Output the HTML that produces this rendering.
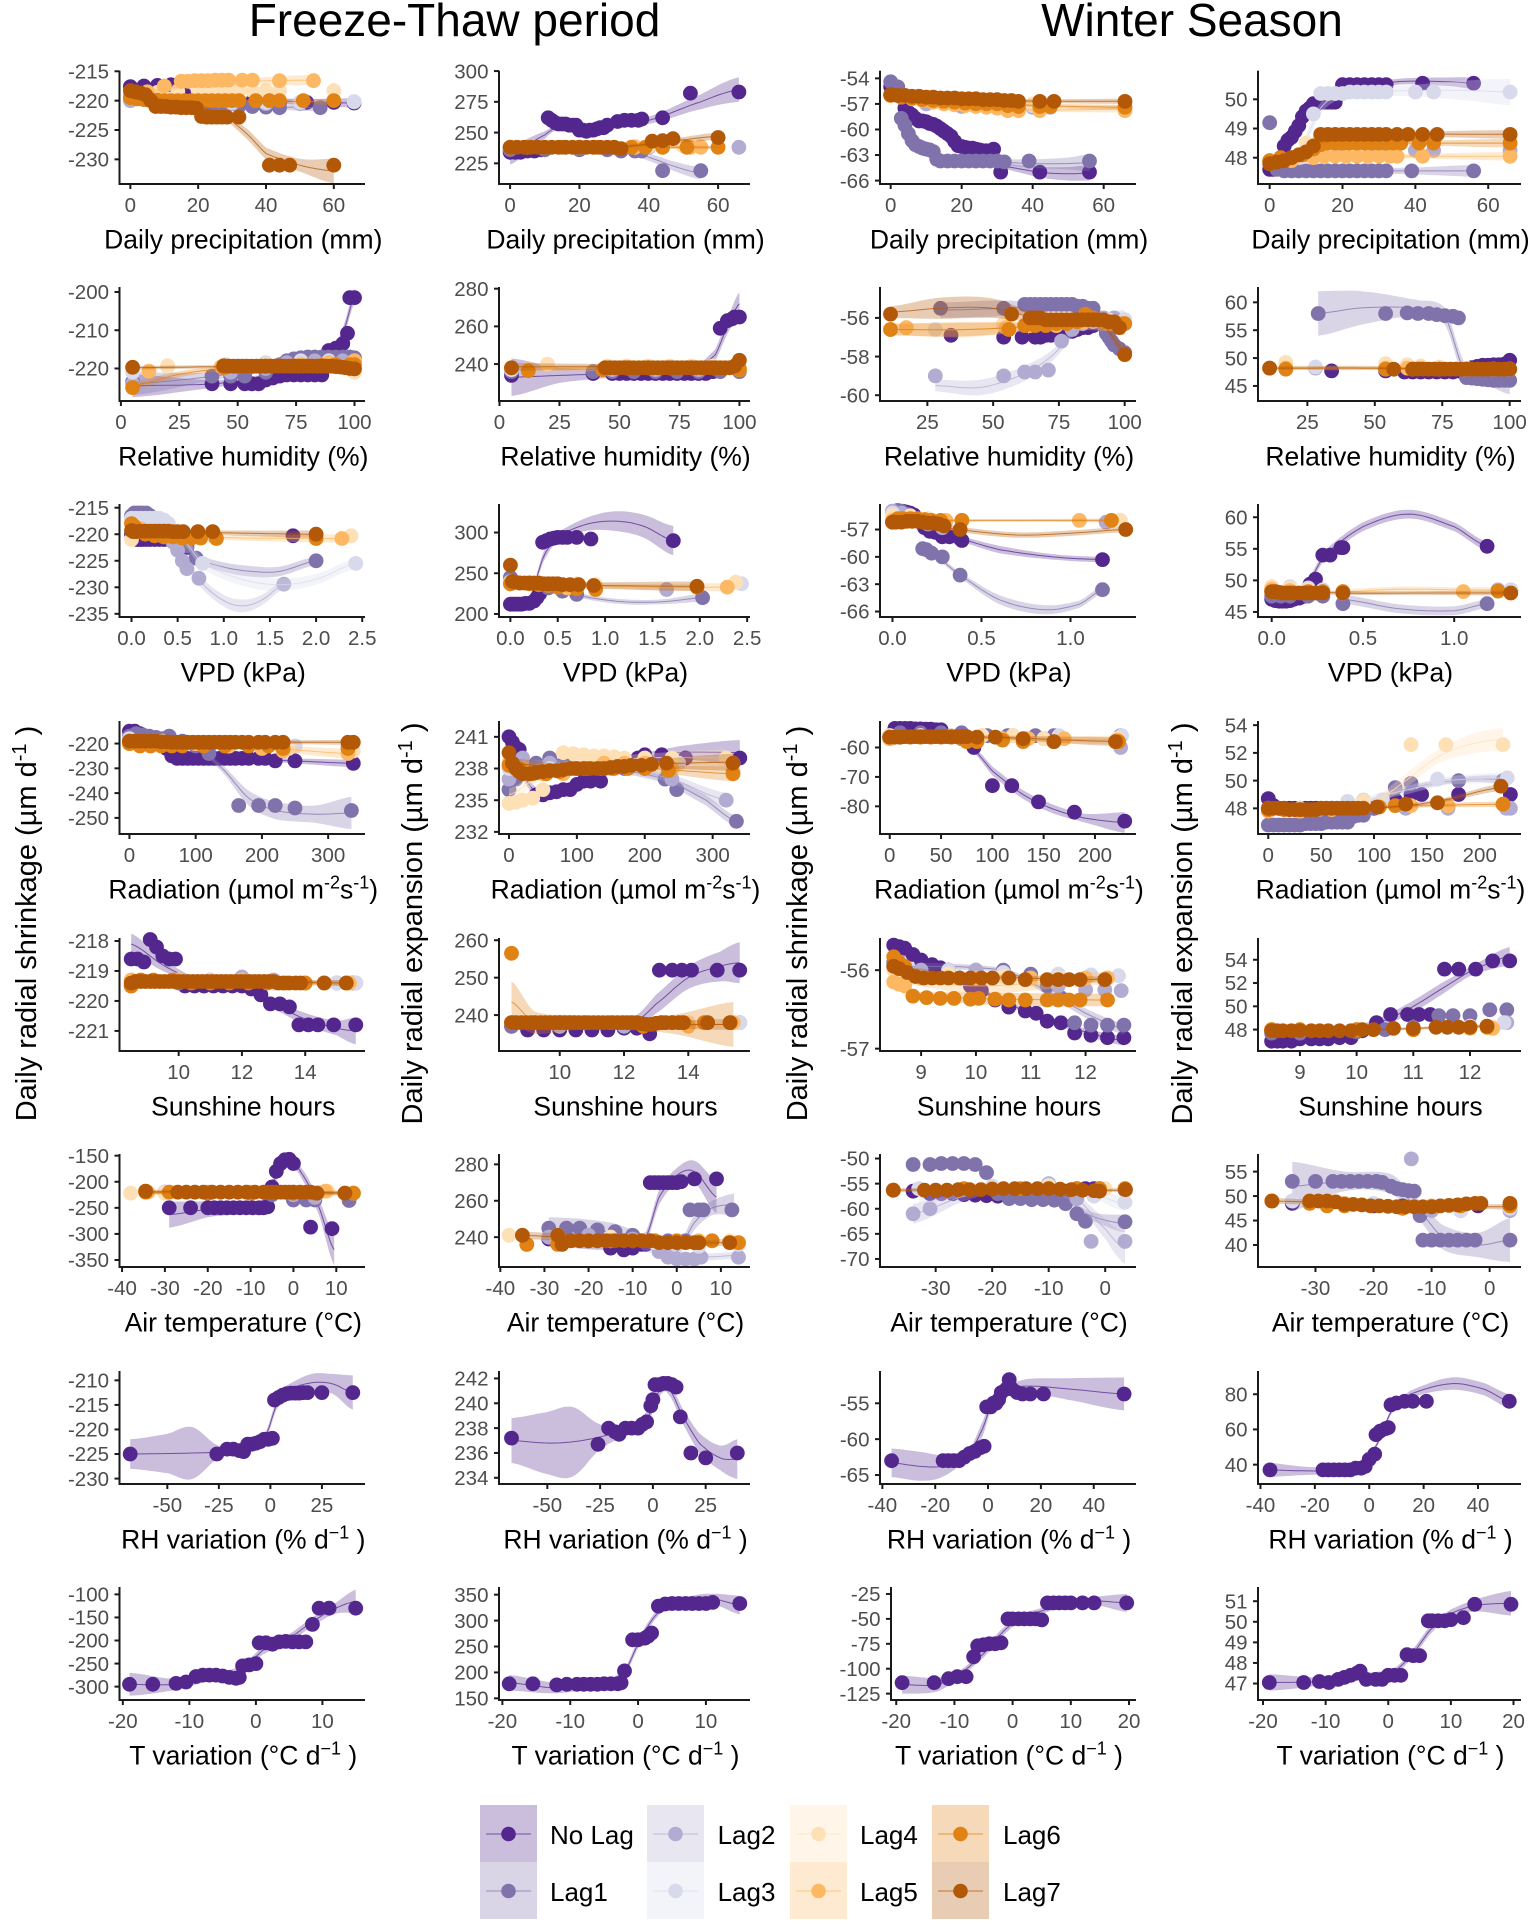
<!DOCTYPE html>
<html lang="en">
<head>
<meta charset="utf-8">
<title>Freeze-Thaw period and Winter Season response curves</title>
<style>
html,body{margin:0;padding:0;background:#fff;}
svg{display:block;font-family:"Liberation Sans",sans-serif;}
</style>
</head>
<body>
<svg id="chart" width="1535" height="1924" viewBox="0 0 1535 1924">
<rect width="1535" height="1924" fill="#fff"/>
<text x="454.5" y="36" font-size="46" text-anchor="middle" fill="#000">Freeze-Thaw period</text>
<text x="1192" y="36" font-size="46" text-anchor="middle" fill="#000">Winter Season</text>
<text transform="translate(36 923.5) rotate(-90)" font-size="29" text-anchor="middle">Daily radial shrinkage (µm d<tspan dy="-10" font-size="20">-1</tspan><tspan dy="10">&#160;)</tspan></text>
<text transform="translate(422 923.5) rotate(-90)" font-size="29" text-anchor="middle">Daily radial expansion (µm d<tspan dy="-10" font-size="20">-1</tspan><tspan dy="10">&#160;)</tspan></text>
<text transform="translate(807 923.5) rotate(-90)" font-size="29" text-anchor="middle">Daily radial shrinkage (µm d<tspan dy="-10" font-size="20">-1</tspan><tspan dy="10">&#160;)</tspan></text>
<text transform="translate(1192 923.5) rotate(-90)" font-size="29" text-anchor="middle">Daily radial expansion (µm d<tspan dy="-10" font-size="20">-1</tspan><tspan dy="10">&#160;)</tspan></text>
</svg>
<script>
const _ = null;
const lagNames = ['No Lag','Lag1','Lag2','Lag3','Lag4','Lag5','Lag6','Lag7'];
const lagColors = ['#54278f','#8073ac','#b2abd2','#d8daeb','#fee0b6','#fdb863','#e08214','#b35806'];

/* tick labels */
const xtPrecip=[0,20,40,60];
const xtRhF=[0,25,50,75,100];
const xtRhW=[25,50,75,100];
const xtVpdF=[0,0.5,1,1.5,2,2.5];
const xtVpdW=[0,0.5,1];
const xtRadF=[0,100,200,300];
const xtRadW=[0,50,100,150,200];
const xtSunF=[10,12,14];
const xtSunW=[9,10,11,12];
const xtTempF=[-40,-30,-20,-10,0,10];
const xtTempW=[-30,-20,-10,0];
const xtRhvF=[-50,-25,0,25];
const xtRhvW=[-40,-20,0,20,40];
const xtTvF=[-20,-10,0,10];
const xtTvW=[-20,-10,0,10,20];

/* shared driver values */
const pC=[0,4,8,12,16,20,24,28,32,36,40,44,48,52,56,60,66];
const rF=[5,12,20,39,44,47,50,53,56,59,62,65,68,71,74,77,80,83,86,89,92,95,97,98,100];
const rFine=[5,44,46,48,50,52,54,56,58,60,62,64,66,68,70,72,74,76,78,80,82,84,86,88,90,92,94,96,98,100];
const rH=[5,44,50,56,62,68,74,80,86,92,98,100];
const rW=[11,17,28,34,54,57,60,62,64,66,68,70,72,74,76,78,80,82,84,86,88,90,92,94,96,98,100];
const rV=[11,17,34,57,64,70,76,82,88,94,100];
const vF=[0,.03,.06,.09,.12,.16,.2,.25,.3,.35,.4,.45,.5,.55,.6,.7,.73,.77,.88,.92,1.65,1.75,2,2.3,2.4,2.44];
const vW=[0,.02,.04,.06,.08,.1,.12,.15,.18,.21,.24,.28,.32,.38,.39,1.05,1.18,1.24,1.31];
const qF=[0,8,16,24,32,40,48,56,64,72,80,88,96,104,112,120,128,136,144,152,160,170,180,195,205,220,232,250,330,338];
const qW=[0,5,10,15,20,25,30,35,40,45,50,55,60,65,70,75,80,85,90,100,120,135,145,160,170,180,222,229];
const sF=[8.5,8.7,8.9,9.1,9.3,9.5,9.7,9.9,10.2,10.5,10.8,11.1,11.4,11.7,12,12.3,12.6,12.9,13.2,13.5,13.8,14.1,14.4,14.9,15.4,15.6];
const sFine=[8.5,8.65,8.8,8.95,9.1,9.25,9.4,9.55,9.7,9.85,10,10.15,10.3,10.45,10.6,10.75,10.9,11.05,11.2,11.35,11.5,11.65,11.8,11.95,12.1,12.25,12.4,12.55,12.7,12.85,13,13.15,13.3,13.5,13.7,13.85,14.6,15.3];
const sW=[8.5,8.6,8.7,8.85,9,9.2,9.35,9.5,9.7,9.9,10.1,10.35,10.6,10.9,11.1,11.3,11.55,11.8,12.1,12.4,12.7];
const tF=[-38,-34.5,-29,-27,-25,-23,-21,-19,-17,-15,-13,-11,-9,-7,-6,-5,-4,-3,-2,-1,0,1.5,3,4,5.5,7,9,12,14];
const tW=[-37.5,-34,-31,-29,-27,-25,-23,-21,-19,-17,-15,-13,-11,-9,-7,-5,-3.5,-2,-1,3.5];
const hvF=[-68,-26,-21,-18,-15,-13,-11,-9,-7,-5,-3,-1,1,2,4,6,8,10,12,14,16,18,25,40];
const hvE=[-67,-26,-21,-18,-16,-13,-10,-7,-5,-3,-1,0,1,3,5,7,9,11,13,18,25,40];
const hvW=[-36.5,-17,-15,-13,-11,-9,-7,-5,-3,-1.5,-.5,1,2,3,4,5,7,8,9,11,13,16,21,51.5];
const hvX=[-36.5,-17,-15,-13,-11,-9,-7,-5,-3,-1.5,0,2,2.5,4,6,7,8,10,13,16,21,51.5];
const tvA=[-19,-15.5,-12,-10.5,-9,-8,-7,-6,-5,-4,-3,-2.5,-2,-1,0,.5,1.5,2.5,3.5,4.5,5.5,6.5,7.5,8.5,9.5,11,15];
const tvB=[-19,-15.5,-12,-10.5,-9,-8,-7,-6,-5,-4,-3,-2.5,-2,-.8,0,1,1.5,2,3,4,5,6,7,8,9,10,11,15];
const tvC=[-19,-13.5,-11,-9.5,-8,-6.7,-6,-5,-4,-3,-2,-.8,0,1,2,3,4,5,6,7,8,9,10,12,14,19.6];
const tvD=[-19,-13.5,-11,-9.5,-8,-7,-6,-5,-4.5,-3.5,-2,-1,0,1,2,3,4,5,6.4,7,8,9,10,12,13.8,19.6];

/* measured responses: one row per lag, [driver values, response values] */
const ftPrecipShrink=[
[pC,[-217.6,-217.5,-217.4,-217.3,-219,-220,-220.2,-220.2,-220.2,-220.2,-220.3,-220.3,_,-220.3,_,-220.3,-220.4]],
[pC,[-219.5,-219.8,-220,-220.2,-220.4,-220.8,-221,-221,-221,-221,-221.1,-221.2,_,_,-221.2]],
[[0,10,20,30,40,50,66],[-220,-220,-220.5,-220.5,-220.5,-220.5,-220.2]],
[[0,10,20,30,40,50,66],[-219,-219.5,-220,-220.3,-220.3,-220.3,-220.2]],
[[0,8,14,20,24,28,32,36,40,44,60],[-219,-218.6,-218.4,-218.3,-218.3,-218.3,-218.3,-218.3,-218.3,-218.3,-218.3]],
[[0,5,10,15,17,19,21,23,25,27,29,33,36,44,54],[-219,-218.5,-217.5,-216.7,-216.7,-216.6,-216.6,-216.6,-216.5,-216.5,-216.5,-216.5,-216.5,-216.6,-216.6]],
[[0,2,4,6,8,10,12,14,16,18,20,22,24,26,28,30,32,37,41,44,51,60],[-219.5,-219.7,-219.8,-219.8,-219.9,-220,-220,-220,-220,-220,-220,-220,-220,-220,-220,-220,-220,-220,-220,-220,-220,-220]],
[[0,1.5,3,4.5,6,7.5,9,10.5,12,13.5,15,16.5,18,19.5,21,22.5,24,25.5,27,28.5,32,41,44,47,60],[-218.3,-218.5,-218.7,-219,-220,-221,-221,-221,-221.1,-221.1,-221.2,-221.2,-221.2,-221.3,-222.7,-222.8,-222.8,-222.8,-222.8,-222.8,-222.8,-231,-231,-231,-231]]];
const ftPrecipShrinkFit=[
[0,[0,15,30,50,66],[-218.5,-218.2,-219.5,-220.2,-220.4],[.5,.4,.4,.5,.8]],
[1,[0,20,40,55],[-219.5,-220.5,-221,-221.2],[.4,.3,.4,.6]],
[5,[0,15,30,54],[-219,-217.5,-216.8,-216.5],[.6,.5,.5,.9]],
[6,[0,30,60],[-219.5,-220,-220.2],[.3,.3,.5]],
[7,[0,10,20,30,35,40,50,60],[-219,-220,-221,-223.5,-226,-229,-231,-232],[.4,.3,.4,.7,.9,1,1.1,2.1]]];

const ftPrecipExpand=[
[[0,1.5,3,5,7,9,11,12,13,14,15,16,17,18,19,20,21,22,23,24,25,26,27,28,31,33,35,37,38,44,52,66],[234,234,234,235,235,236,262,260,258,257,257,257,256,256,256,252,252,251,252,252,253,254,254,256,259,260,260,260,261,262,282,283]],
[[0,10,20,28,32,36,38,44,55],[236,236,236,236,235,235,235,219,219]],
[[0,20,40,66],[238,238,238,238]],
[[0,20,36,44],[238,238,238,238]],
[[0,20,36,40,44,50,55],[238,238,239,239,239,239,239]],
[[0,20,36,44,52,55],[238,238,238,238,238,238]],
[[0,5,10,15,20,25,30,35,39,44,51,60],[238,238,238,238,238,238,238,238,238,238,238,238]],
[[0,2,4,6,8,10,12,14,16,18,20,22,24,26,28,30,32,41,44,47,60],[238,238,238,238,238,238,238,238,238,238,238,238,238,238,238,238,237,243,243.5,245,246]]];
const ftPrecipExpandFit=[
[0,[0,10,15,25,40,55,66],[232,248,256,255,260,275,285],[8,3,2,2,3,6,10]],
[1,[32,40,48,55],[236,230,222,217],[2,3,4,5]],
[5,[0,30,55],[238,238,238],[.8,.8,1.5]],
[6,[0,30,60],[238,238,238],[.8,.8,1.5]],
[7,[0,30,47,60],[238,238,243,247],[1,1,2,3]]];

const wPrecipShrink=[
[[0,2,4,5,6,7,8,9,10,11,12,13,14,15,16,17,18,19,20,21,22,23,24,25,26,27,29,31,42,56],[-55,-56,-57.5,-58,-58.3,-58.7,-59,-59,-59.1,-59.3,-59.4,-59.6,-59.9,-60.2,-60.5,-60.8,-61.4,-61.9,-62,-62.1,-62.2,-62.2,-62.3,-62.4,-62.5,-62.5,-62.3,-65,-65,-65]],
[[0,2,3,4,5,6,7,8,9,10,11,12,13,14,16,18,20,22,24,26,28,30,32,39,56],[-54.4,-55,-58.7,-59.5,-60.5,-61.3,-61.8,-62,-62.2,-62.3,-62.4,-62.6,-63.5,-63.7,-63.7,-63.7,-63.7,-63.7,-63.7,-63.7,-63.7,-63.7,-63.8,-63.7,-63.7]],
[[0,10,20,30,36,40,45],[-56,-57,-57.3,-57.3,-57.3,-57.4,-57.4]],
[[0,10,20,30,40,66],[-56,-56.5,-56.8,-57,-57.2,-57.4]],
[[0,10,20,30,40,66],[-56,-56.4,-56.6,-56.8,-57,-57.4]],
[[0,3,6,9,12,15,18,21,24,27,30,33,36,42,66],[-56,-56.2,-56.4,-56.6,-56.8,-57,-57.1,-57.2,-57.3,-57.4,-57.5,-57.8,-57.8,-57.8,-57.8]],
[[0,3,6,9,12,15,18,21,24,27,30,33,36,42,45,66],[-56,-56.2,-56.3,-56.5,-56.6,-56.7,-56.8,-56.9,-57,-57,-57,-57.2,-57.3,-57.3,-57.3,-57.4]],
[[0,2,4,6,8,10,12,14,16,18,20,22,24,26,28,30,32,34,36,42,46,66],[-55.9,-56,-56,-56.1,-56.1,-56.2,-56.2,-56.3,-56.3,-56.3,-56.4,-56.4,-56.4,-56.5,-56.5,-56.5,-56.6,-56.6,-56.7,-56.7,-56.7,-56.7]]];
const wPrecipShrinkFit=[
[0,[31,42,50,56],[-64.3,-65,-65.2,-65.1],[.3,.6,.8,.9]],
[1,[20,30,40,50,56],[-63.7,-63.8,-64,-64,-63.9],[.2,.3,.5,.7,1]],
[5,[0,20,40,66],[-56,-57.2,-57.7,-57.6],[.3,.2,.2,.4]],
[6,[0,30,66],[-56,-57,-57.4],[.3,.2,.3]],
[7,[0,30,66],[-56,-56.6,-56.7],[.3,.2,.3]]];

const wPrecipExpand=[
[[0,1,2,3,4,5,6,7,8,9,10,11,12,13,14,15,16,17,18,20,22,24,26,28,30,32,42,56],[47.6,47.6,47.7,48,48.4,48.6,48.7,48.9,49.1,49.4,49.6,49.7,49.85,49.85,49.9,49.9,49.9,49.9,49.9,50.5,50.5,50.5,50.5,50.5,50.5,50.5,50.55,50.55]],
[[0,1,2,4,6,8,10,12,14,16,18,20,22,24,26,28,30,32,39,56],[49.2,47.8,47.6,47.55,47.55,47.55,47.55,47.55,47.55,47.55,47.55,47.55,47.55,47.55,47.55,47.55,47.55,47.55,47.55,47.55]],
[[0,10,20,30,40,45,66],[47.9,48.1,48.3,48.3,48.25,48.25,48.25]],
[[0,8,12,14,16,18,20,22,24,26,28,30,32,40,45,66],[47.9,48,49.5,50.2,50.2,50.2,50.2,50.25,50.25,50.25,50.25,50.25,50.25,50.25,50.25,50.25]],
[[0,10,16,30,45,66],[47.9,48.5,48.7,48.7,48.7,48.7]],
[[0,6,12,15,18,21,24,27,30,33,35,42,66],[47.8,47.9,48,48.05,48.05,48.05,48.05,48.05,48.05,48.05,48.05,48.05,48.05]],
[[0,3,6,9,12,14,16,18,20,22,24,26,28,30,32,34,36,41,45,66],[47.9,48,48,48.1,48.3,48.45,48.5,48.5,48.5,48.5,48.5,48.5,48.5,48.5,48.5,48.5,48.5,48.5,48.5,48.5]],
[[0,2,4,6,8,10,12,14,16,18,20,22,24,26,28,30,32,35,38,42,46,66],[47.8,47.85,47.9,48,48.1,48.2,48.4,48.8,48.8,48.8,48.8,48.8,48.8,48.8,48.8,48.8,48.8,48.8,48.8,48.8,48.8,48.8]]];
const wPrecipExpandFit=[
[0,[0,8,14,20,35,50,56],[47.5,49,49.9,50.3,50.6,50.6,50.55],[.12,.12,.12,.1,.1,.15,.2]],
[1,[2,20,40,56],[47.6,47.55,47.55,47.55],[.1,.08,.12,.2]],
[3,[8,14,20,40,55,66],[48.2,49.7,50.2,50.3,50.3,50.25],[.2,.2,.15,.2,.35,.45]],
[5,[0,15,40,66],[47.8,48,48.05,48.05],[.12,.1,.08,.15]],
[6,[0,15,40,66],[47.9,48.5,48.5,48.5],[.12,.1,.08,.15]],
[7,[0,8,14,40,66],[47.8,48.1,48.7,48.8,48.8],[.12,.12,.2,.1,.15]]];

const ftRhShrink=[
[rF,[_,_,_,-224,_,-224,_,-224,-224,-224,-223,-222.5,-222,-221.7,-221.7,-221.7,-221.7,-221.7,-221.7,-215.3,-214.7,-213.5,-210.8,-201.5,-201.5]],
[[5,39,47,53,62,68,71,74,77,80,83,86,89,92,95,98,100],[-223.5,-222,-222,-222,-221,-219,-218,-217.5,-217.2,-217,-217,-217,-217,-217,-217,-217,-217.2]],
[[5,47,62,71,77,83,89,95,100],[-224,-221,-220,-218.5,-218,-218,-218,-218,-218]],
[[5,20,45,62,77,89,100],[-221,-219.5,-219,-218.5,-218,-218,-218]],
[[20,45,62,77,89,100],[-219.3,-219.3,-219,-219,-219,-221]],
[[12,43,62,77,89,100],[-220.7,-219.5,-219.3,-219,-218.5,-218]],
[rH,[-225,-219.8,-219.5,-219.5,-219.5,-219.3,-219.3,-219.3,-219.2,-219,-219,-219]],
[rFine,[-219.7,-219.3,-219.4,-219.4,-219.4,-219.4,-219.4,-219.4,-219.4,-219.4,-219.4,-219.4,-219.4,-219.4,-219.4,-219.4,-219.4,-219.4,-219.4,-219.4,-219.4,-219.4,-219.4,-219.4,-219.4,-219.5,-219.6,-219.8,-220,-220.1]]];
const ftRhShrinkFit=[
[0,[5,40,65,85,92,96,100],[-224.5,-224,-222,-220,-215,-209,-201],[3,1,.7,.7,1,1.5,2]],
[1,[5,40,70,90,100],[-224,-222,-219,-217.5,-217.5],[3,1,.7,.5,1]],
[6,[5,25,45,70,90,100],[-224.5,-221.5,-220,-219.2,-218,-219],[1,.8,.5,.3,.3,.8]],
[7,[5,45,70,90,100],[-219.8,-219.5,-219.3,-218.5,-220],[.5,.4,.3,.3,.6]]];

const ftRhExpand=[
[rF,[234,_,_,235,_,235,235,235,235,235,235,235,235,235,235,235,235,235,235,236,259,263,264,265,265]],
[[5,39,47,56,65,74,83,92,100],[236,236,236,236,236,236,236,236,236]],
[[5,47,65,83,100],[237,237,237,237,237]],
[[5,47,65,83,100],[237,238,238,238,237]],
[[5,20,45,53,62,71,80,89,100],[238,240,239,239,239,239,239,239,237]],
[[12,45,53,62,71,80,89,100],[237,238,238,238,238,238,238,238]],
[[5,12,43,53,62,71,80,89,100],[238,236.5,237,238,238,238,238,238,237]],
[rFine,[238,238,238,238,238,238,238,238,238,238,238,238,238,238,238,238,238,238,238,238,238,238,238,238,238,238,238,238,239,242]]];
const ftRhExpandFit=[
[0,[5,25,50,80,90,95,100],[233,234,235,236,245,260,272],[10,4,2,1.5,3,4,6]],
[5,[12,45,80,100],[237.5,238,238,238],[2,1.5,.8,1.5]],
[7,[5,45,80,100],[238.5,238.5,238,237.5],[2,1.5,.8,1.5]]];

const wRhShrink=[
[[34,54,61,66,68,70,72,74,76,78,80,82,84,86,88,90],[-56.9,-57,-57,-57,-57,-56.9,-56.9,-56.8,-56.8,-56.7,-56.7,-56.6,-56.5,-56.5,-56.4,-56.3]],
[[30,54,62,64,66,68,70,72,74,76,78,80,82,84,86,88,90,92,93,94,95,96,98,100],[-55.5,-55.5,-55.3,-55.3,-55.3,-55.3,-55.3,-55.3,-55.3,-55.3,-55.3,-55.3,-55.4,-55.4,-55.5,-55.5,-56,-56.4,-56.8,-57,-57.2,-57.4,-57.6,-57.8]],
[[28,54,62,66,71,76,80,84,88,92,96,100],[-59,-59,-58.8,-58.8,-58.7,-57.2,-56.6,-56.3,-56.2,-56,-56,-56.1]],
[[28,54,64,74,84,94,100],[-56.6,-56.4,-56.3,-56.2,-56.2,-56.1,-56.1]],
[[17,54,64,74,84,94,100],[-56.5,-56.3,-56.2,-56.2,-56.2,-56.2,-56.3]],
[[11,17,55,64,74,84,94,100],[-56.6,-56.5,-56.5,-56.4,-56.4,-56.2,-56.3,-56.3]],
[[11,56,62,66,70,74,78,82,85,88,92,96,100],[-56.6,-56.6,-56.4,-56.4,-56.4,-56.3,-56.3,-56.2,-55.8,-56,-56.2,-56.3,-56.3]],
[[11,57,64,66,68,70,72,74,76,78,80,82,84,86,88,90,92,94,96,98,100],[-55.8,-55.8,-56,-56,-56,-56.1,-56.1,-56.1,-56.1,-56.1,-56.1,-56.1,-56.1,-56.1,-56.1,-56.1,-56.1,-56.2,-56.2,-56.5,-57.9]]];
const wRhShrinkFit=[
[1,[30,54,75,88,94,100],[-55.6,-55.5,-55.4,-55.6,-56.8,-57.7],[.4,.4,.15,.15,.25,.3]],
[2,[28,45,60,72,85,100],[-59.5,-59.6,-59,-58,-56.2,-56],[.3,.4,.4,.3,.2,.4]],
[5,[11,40,70,100],[-56.6,-56.6,-56.4,-56.3],[.3,.4,.2,.4]],
[6,[11,40,70,85,100],[-56.6,-56.6,-56.4,-56.1,-56.4],[.3,.35,.2,.2,.5]],
[7,[11,30,50,70,90,100],[-55.7,-55.5,-55.5,-56.1,-56.1,-57.7],[.3,.55,.5,.2,.15,.3]]];

const wRhExpand=[
[[34,54,61,64,67,70,73,76,79,82,84,86,88,90,92,94,96,98,100],[47.7,47.7,47.5,47.5,47.5,47.5,47.5,47.5,47.5,47.6,48,48.3,48.5,48.7,48.7,48.8,48.8,48.9,49.6]],
[[29,54,62,66,70,73,76,79,81,84,86,88,90,92,94,96,98,100],[58,58,58.1,58,58,57.8,57.6,57.5,57.2,46.5,46.4,46.3,46.2,46.1,46,46,46,46]],
[[28,54,64,74,84,94,100],[48.2,48,48,48,48,48,48]],
[[28,54,64,74,84,94,100],[48.4,48.2,48.2,48.2,48,48,48]],
[[17,54,62,67,74,84,94,100],[49.2,49,48.8,48.6,48.4,48.2,48,48]],
[[17,54,62,67,74,84,94,100],[48.2,48.2,48.2,48.2,48,48,48,48]],
[[11,17,54,64,74,84,94,100],[48.2,48,48,48,48,48,48,48]],
[[11,57,64,66,68,70,72,74,76,78,80,82,84,86,88,90,92,94,96,98,100],[48.2,48,48,48,48,48,48,48,48,48,48,48,48,48,48,48,48,48,48,48,48]]];
const wRhExpandFit=[
[1,[29,45,65,76,83,90,100],[58,59,59,57.5,48,46.5,46],[4,3,1.5,1.5,1.5,1,2.5]],
[7,[11,50,80,100],[48.2,48.2,48,48],[.3,.3,.2,.3]],
[5,[17,50,80,100],[48.2,48.2,48,48],[.4,.4,.2,.4]]];

const ftVpdShrink=[
[vF,[-220,-220.5,-221,-221,-221,-221,-221,-221,-221,-221,-221,-221,-221,-221,-222.5,_,_,_,_,_,_,-220.3]],
[vF,[-216.5,-216,-216,-216,-216,-216,-216.5,-217,-218,-219.5,-220,-220.8,-221.3,-221.8,-222.2,-224.5,_,_,_,_,_,_,-225]],
[[0,.05,.1,.15,.2,.25,.3,.35,.4,.45,.5,.55,.6,.73,1.65],[-217,-217.5,-218,-218,-218,-218,-218,-219,-220,-221.5,-223,-225,-226.5,-228.3,-229.4]],
[[0,.05,.1,.15,.2,.25,.3,.35,.4,.5,.77,2.43],[-217,-217,-217,-217,-217,-217,-217,-217.3,-218,-220,-225.5,-225.5]],
[[0,.1,.3,.5,.7,.9,2.38],[-221,-219.5,-219.5,-220,-220,-220,-220.3]],
[[0,.1,.3,.5,.7,.9,2.28],[-218,-219,-220,-220.3,-220.5,-220.5,-220.8]],
[[0,.03,.08,.15,.25,.35,.45,.55,.65,.75,.92,2],[-218,-218.5,-219.5,-220,-220.3,-220.5,-220.5,-220.7,-220.7,-220.7,-220.8,-220.8]],
[[0,.02,.05,.1,.15,.2,.25,.3,.35,.4,.45,.5,.56,.72,.88,2],[-219.3,-219.5,-219.5,-219.4,-219.4,-219.4,-219.4,-219.4,-219.4,-219.4,-219.5,-219.5,-219.5,-219.5,-219.5,-220]]];
const ftVpdShrinkFit=[
[1,[.5,.7,1,1.3,1.6,2],[-221.5,-224.5,-226.2,-227,-227,-225],[.8,.8,.9,1,.9,.8]],
[2,[.5,.75,1,1.2,1.4,1.65],[-223.5,-229,-232.5,-233.5,-232.5,-229.5],[.8,1,1.1,1.2,1,.8]],
[3,[.5,.77,1.2,1.6,2,2.43],[-220,-225.5,-228.5,-229.5,-228.5,-225.5],[.8,1,1.2,1.2,1,1]],
[5,[0,.5,1.2,2.28],[-219,-220.3,-220.7,-220.8],[.6,.3,.5,.8]],
[7,[0,.5,1.2,2],[-219.3,-219.5,-219.8,-220],[.6,.3,.5,.7]]];

const ftVpdExpand=[
[[0,.03,.06,.09,.12,.16,.2,.25,.28,.31,.34,.38,.42,.46,.5,.55,.6,.7,.85,1.72],[212,212,212,212,212,213,213,216,220,225,288,290,292,293,294,294,294,294,292,290]],
[[0,.2,.4,.55,.7,2.03],[245,238,232,228,224,220]],
[[0,.2,.4,.7,1.65],[240,238,235,232,230]],
[[0,.3,.7,2.44],[239,237,235,237]],
[[0,.3,.7,.9,2.38],[239,238,237,236,239]],
[[0,.3,.6,.9,2.29],[237,236,232,232,233]],
[[0,.1,.2,.3,.4,.5,.7,.9,1.97],[237,238,237,236,235,233,231,230,233]],
[[0,.02,.05,.1,.15,.2,.25,.3,.35,.4,.45,.5,.55,.63,.72,.88,1.97],[260,240,239,238,238,238,238,238,237,237,237,237,236,236,236,235,234]]];
const ftVpdExpandFit=[
[0,[0,.2,.35,.5,.8,1.1,1.4,1.72],[212,218,270,295,310,314,308,290],[3,3,6,5,8,12,14,18]],
[1,[.4,.8,1.2,1.6,2.03],[233,221,215,215,220],[3,3,3,3,5]],
[5,[0,.9,1.6,2.29],[238,235,233,233],[4,3,4,5]],
[7,[0,.4,.9,1.97],[242,237,235,234],[4,3,4,6]]];

const wVpdShrink=[
[vW,[-55,-55,-55,-55,-55.1,-55.2,-55.4,-56,-56.8,-57.2,-57.3,-57.8,-57.8,-58,-58.2,_,-60.3]],
[[0,.03,.05,.08,.12,.17,.19,.22,.28,.38,1.18],[-55,-54.9,-55,-55.3,-56,-59.1,-59.2,-59.6,-60,-62,-63.6]],
[[0,.05,.1,.15,.2,.28,1.2],[-55,-55.2,-55.6,-56,-56.4,-56.8,-56.2]],
[[0,.1,.2,.3,1.28],[-55.2,-55.5,-56,-56.2,-56]],
[[0,.1,.2,.3,.39,1.05,1.28],[-55.5,-55.5,-55.8,-56,-56,-56,-56]],
[[0,.1,.2,.3,.39,1.05,1.23],[-56,-56,-56,-56,-56,-56,-56]],
[[0,.03,.06,.1,.14,.18,.22,.27,.39,1.23],[-56.2,-55.8,-55.8,-55.8,-55.8,-55.9,-56,-56,-56,-56]],
[[0,.02,.05,.08,.11,.14,.17,.2,.23,.26,.29,.38,1.31],[-56.2,-56.2,-56.2,-56.1,-56.1,-56.1,-56.2,-56.3,-56.3,-56.4,-56.6,-57,-57]]];
const wVpdShrinkFit=[
[0,[.2,.38,.6,.9,1.18],[-56.8,-58,-59.2,-60,-60.3],[.3,.3,.4,.3,.3]],
[1,[.17,.38,.6,.85,1.05,1.18],[-59,-62,-64.7,-65.8,-65.2,-63.6],[.3,.3,.5,.5,.4,.4]],
[6,[0,.39,.8,1.23],[-56,-56,-56,-56],[.2,.15,.15,.2]],
[7,[0,.38,.7,1,1.31],[-56,-57,-57.6,-57.4,-57],[.3,.3,.3,.3,.3]]];

const wVpdExpand=[
[vW,[47,46.8,46.7,46.7,46.7,46.8,47,47.2,47.5,49.4,50.2,54,54,55.2,55.2,_,55.4]],
[[0,.05,.1,.2,.28,.39,1.18],[47.5,47.5,47.5,47.5,47.5,46.3,46.3]],
[[0,.1,.2,.28,.39,1.24,1.31],[48.5,48.8,48.8,48.5,48,48.5,48.5]],
[[0,.1,.2,.28,.39,1.31],[49,49,48.8,48.5,48,48.5]],
[[0,.1,.2,.28,.39,1.05],[49,48.8,48.5,48.2,48.2,48.2]],
[[0,.1,.2,.28,.39,1.05],[48.6,48.4,48.2,48.2,48.2,48.2]],
[[0,.1,.2,.28,.39,1.24],[48.2,48,48.2,48.2,48.2,48.3]],
[[0,.02,.04,.06,.08,.1,.12,.15,.18,.21,.24,.28,.39,1.31],[48.2,48.2,48.1,48,48,48,48,48,48,48,48,48,48,48]]];
const wVpdExpandFit=[
[0,[.15,.29,.5,.75,1,1.18],[47.5,54,58.5,60.5,58.5,55.4],[.5,.7,.7,.7,.7,.7]],
[1,[.39,.7,1,1.18],[47,45.5,45.2,46.3],[.7,.7,.7,.7]],
[5,[.39,.7,1.05,1.31],[48.2,48.6,48.5,48.5],[.4,.4,.4,.5]],
[7,[0,.39,.8,1.31],[48.4,48,48,48],[.4,.3,.3,.4]]];

const ftRadShrink=[
[qF,[-215,-215,-216,-217,-218,-219,-220,-222,-225,-226,-226,-226,-226,-226,-226,-226,-226,-226,-226,-226,-226,-226,-226,-226,-226,-227,_,-227,_,-228]],
[[0,10,20,30,40,50,60,80,100,120,165,195,220,250,335],[-217,-216,-216.5,-217,-217.5,-218,-217,-219,-221,-224,-245,-245,-245,-246,-247]],
[[0,50,100,150,200,250,330],[-218,-219,-220,-221,-221,-221,-221]],
[[0,50,100,150,200,250,333],[-218,-219,-220,-221,-221,-221,-221]],
[[0,50,100,150,200,240,338],[-220,-220,-220,-221,-221,-222,-223]],
[[0,50,100,150,200,232,330],[-219,-220,-220,-221,-222,-223,-224]],
[[0,16,32,48,64,80,112,144,180,210,232,330],[-220,-221,-221,-221,-221,-221,-221,-221,-221,-221,-222,-222]],
[qF,[-219,-219,-219,-219,-219,-219,-219.3,-219.3,-219.5,-219.5,-219.5,-219.5,-219.5,-219.5,-219.5,-219.5,-219.5,-219.5,-219.5,-219.5,-219.5,-219.5,-219.5,-219.5,-219.5,-219.5,-219.5,_,-219.5,-219.5]]];
const ftRadShrinkFit=[
[0,[60,150,250,338],[-224,-226,-227,-228],[1,.6,1,1.5]],
[1,[100,140,180,220,280,335],[-222,-230,-242,-247,-248.5,-248],[1,1.5,3,3.5,3.5,6.5]],
[5,[0,150,330],[-219,-220.5,-224],[.6,.6,2]],
[7,[0,150,330],[-219,-219.3,-219.5],[.6,.5,1]]];

const ftRadExpand=[
[[0,5,10,15,40,50,60,70,80,90,100,110,120,135,190,200,225,260,340],[241,240.5,240,239.8,235.5,235.5,235.7,235.8,236,236,236.5,236.8,236.8,236.8,239,239.3,239.3,239,239]],
[[0,10,20,40,60,80,100,140,170,200,230,247,335],[236,237,238,238.5,239,238.5,238,238,238,238,237,236,233]],
[[0,20,60,100,150,200,240,320],[237,239,238.5,238,238,238,237,235]],
[[0,20,60,100,150,200,250,330],[238,238,238,238,238.5,238.5,238.5,238.5]],
[[0,10,20,35,50,80,95,110,125,140,155,170,200,240,320],[234.7,234.8,235,235.2,236,239.5,239.4,239.3,239.2,239.2,239.1,239,239,239,239]],
[[0,20,50,80,110,140,170,200,240,330],[238.5,238,237.5,237.5,238,238.5,238.5,238.5,238,237.7]],
[[0,15,35,55,75,95,115,135,155,175,200,235,330],[238.3,238,237.5,237.5,237.7,238,238,238,238,238,238,237.8,237.5]],
[[0,5,10,15,20,30,40,50,60,70,80,90,100,110,120,130,140,150,160,170,180,195,210,232,330],[239.5,238.5,238,237.7,237.5,237.5,237.6,237.7,237.8,237.8,237.9,238,238,238,238,238,238,238.1,238.2,238.2,238.3,238.3,238.4,238.5,238.5]]];
const ftRadExpandFit=[
[0,[0,25,45,80,120,180,250,340],[240.5,237,235.6,236,237,238.7,239.5,239.5],[.6,.5,.4,.3,.3,.4,.6,1.2]],
[1,[0,60,150,230,290,335],[237,238.5,238,237,235,233],[.6,.3,.3,.4,.5,.5]],
[2,[0,60,150,240,320],[238,238.5,238.2,237,235],[.6,.3,.3,.4,.7]],
[4,[0,50,100,200,320],[235.5,237.5,238.5,239,239],[.6,.5,.4,.4,.8]],
[6,[0,100,200,330],[238,238,238,237.5],[.5,.3,.3,.7]],
[7,[0,100,200,330],[238.5,238,238.4,238.6],[.5,.3,.4,.8]]];

const wRadShrink=[
[[5,10,15,20,25,30,35,40,45,50,60,70,82,100,119,145,180,229],[-53.5,-53.5,-53.5,-53.5,-53.7,-53.7,-53.8,-53.8,-54,-54,-56,-57,-60,-73,-73,-78.5,-82,-85]],
[[0,10,30,50,70,95,115,142,160,225],[-57,-55,-55,-55,-55,-56,-56,-56,-56,-56]],
[[0,30,60,90,120,150,225],[-56,-56,-56,-56,-56,-57,-60]],
[[0,30,60,90,120,165,226],[-56,-56,-56,-56,-56,-56,-56]],
[[0,30,60,90,120,150,222],[-56,-56,-56,-56,-56,-57,-57]],
[[0,30,60,80,110,135,170,222],[-57,-56.5,-56.5,-57,-57,-57,-57,-57.5]],
[[0,10,20,30,40,50,60,70,75,85,110,130,160,223],[-56.5,-56.5,-56.5,-56.5,-56.5,-56.5,-56.5,-57,-58,-58,-57.5,-58,-58,-58]],
[[0,5,10,15,20,25,30,35,40,45,50,55,60,65,70,75,85,103,130,160,220],[-56.5,-56.5,-56.5,-56.3,-56.3,-56.3,-56.3,-56.3,-56.3,-56.3,-56.3,-56.3,-56.3,-56.3,-56.3,-56.3,-56.5,-56.5,-57,-58,-58]]];
const wRadShrinkFit=[
[0,[60,80,100,130,160,190,229],[-55.5,-60,-68,-76,-81,-84,-85.5],[1,1,1.5,1.5,1.5,1.5,3.5]],
[5,[0,100,222],[-56.5,-57,-57.5],[.8,.6,1.5]],
[7,[0,100,220],[-56,-56.5,-58],[.8,.6,1.5]]];

const wRadExpand=[
[qW,[48.7,48.2,48,48,48,48,48,48,48,48,48,48,48,48,48,48,48,48,48,48,48.6,49,49,_,_,49,_,49]],
[qW,[46.8,46.8,46.8,46.8,46.8,46.8,46.8,46.9,46.9,46.9,46.9,47,47,47,47,47,47.4,47.5,47.5,48,49.5,49.8,_,_,_,50,50,_]],
[[0,30,60,90,130,170,225,229],[48,48,48,48,48,48,48,48]],
[[0,30,60,75,90,108,160,226],[48,48,48,48.5,48.6,48.6,50.1,50.2]],
[[0,30,60,90,135,168,222],[47.9,47.8,48,48.5,52.6,52.6,52.6]],
[[0,30,60,90,135,170,222],[47.8,47.8,47.9,48,48.2,48.2,48.3]],
[[0,15,30,45,60,75,90,105,120,222],[47.9,47.9,47.9,47.9,48,48,48,48.1,48.2,48.3]],
[[0,5,10,15,20,25,30,35,40,45,50,55,60,65,70,75,80,85,90,103,130,160,220],[48,48,48,48,47.9,47.9,47.9,47.9,47.9,47.9,48,48,48,48,48,48,48,48,48,48.1,48.3,48.4,49.6]]];
const wRadExpandFit=[
[1,[70,110,150,190,222],[47.4,48.9,49.7,50.1,50.1],[.2,.2,.2,.2,.3]],
[3,[80,130,170,226],[48.5,49.3,50,50.2],[.2,.3,.3,.4]],
[4,[100,130,160,190,222],[48.5,50,51.7,52.6,53],[.3,.5,.5,.7,.8]],
[6,[0,100,222],[47.9,48.1,48.3],[.2,.1,.2]],
[7,[0,100,160,220],[47.9,48,48.5,49.5],[.2,.1,.15,.25]]];

const ftSunShrink=[
[sF,[-218.6,-218.6,-218.7,-217.95,-218.2,-218.5,-218.6,-218.6,-219.5,-219.5,-219.5,-219.5,-219.5,-219.5,-219.5,-219.6,-219.8,-220.1,-220.1,-220.2,-220.8,-220.8,-220.8,-220.8,_,-220.8]],
[[8.5,10,11,12,13,14,15,15.5],[-219.5,-219.4,-219.4,-219.3,-219.4,-219.4,-219.4,-219.4]],
[[8.5,10,11,12,13,14,15,15.6],[-219.3,-219.3,-219.3,-219.2,-219.3,-219.4,-219.4,-219.4]],
[[8.5,10,11,12,13,14,15,15.6],[-219.3,-219.3,-219.3,-219.3,-219.4,-219.4,-219.4,-219.4]],
[[8.5,10,12,14,15.4],[-219.3,-219.3,-219.3,-219.4,-219.4]],
[[8.5,10,12,14,15.4],[-219.3,-219.3,-219.3,-219.4,-219.4]],
[[8.5,8.8,9.2,9.8,10.4,11,11.6,12.2,12.8,13.4,14,14.6,15.3],[-219.5,-219.3,-219.3,-219.3,-219.4,-219.4,-219.4,-219.4,-219.4,-219.4,-219.4,-219.4,-219.4]],
[sFine,[-219.4,-219.35,-219.35,-219.35,-219.35,-219.35,-219.35,-219.35,-219.35,-219.35,-219.35,-219.35,-219.35,-219.35,-219.35,-219.35,-219.35,-219.35,-219.35,-219.35,-219.35,-219.35,-219.35,-219.35,-219.35,-219.35,-219.35,-219.35,-219.35,-219.35,-219.35,-219.4,-219.4,-219.4,-219.4,-219.4,-219.4,-219.4]]];
const ftSunShrinkFit=[
[0,[8.5,9.5,10.5,12,13,14,15,15.6],[-218.1,-218.8,-219.3,-219.5,-220.1,-220.6,-220.9,-221],[.35,.2,.1,.1,.15,.2,.25,.45]],
[6,[8.5,11,13,15.3],[-219.3,-219.4,-219.4,-219.4],[.1,.05,.05,.1]],
[7,[8.5,11,13,15.3],[-219.2,-219.35,-219.35,-219.4],[.1,.05,.05,.1]]];

const ftSunExpand=[
[[8.5,9,9.5,10,10.5,11,11.5,12,12.4,12.8,13.1,13.5,13.8,14.1,14.9,15.6],[237,236,236,236,236,236,236,236.5,236.5,235,252,252,252,252,252,252]],
[[8.5,10,12,13.5,14.5,15.6],[237,237,237,238,238,238]],
[[8.5,10,12,13.5,15.6],[238,237,237,238,238]],
[[8.5,10,12,13.5,15.6],[238,238,238,238,238]],
[[8.5,10,12,14,15.4],[238,238,238,238,238]],
[[8.5,10,12,14,14.6,15.4],[238,238,238,237,238,238]],
[[8.5,8.6,9.2,10,10.8,11.6,12.2,12.6,13.2,13.8,14.5,15.3],[256.5,238,238,238,238,238,238,237,238,238,238,238]],
[sFine,[238,238,238,238,238,238,238,238,238,238,238,238,238,238,238,238,238,238,238,238,238,238,238,238,238,238,238,237.7,237.5,237.5,237.8,238,238,238,238,238,238,238]]];
const ftSunExpandFit=[
[0,[12.3,13,14,15,15.6],[238,243,250,253,254],[1.5,2.5,3,4,5.5]],
[6,[8.5,9.2,10.5,12,13.5,15.4],[243.5,238,238,237.5,237.5,237.5],[5.5,3,2,1.5,2.5,6]],
[7,[8.5,10.5,12,13.5,15.4],[238,238,238,237.5,237.5],[1.5,1,.8,1,1.5]]];

const wSunShrink=[
[sW,[-55.68,-55.7,-55.72,-55.8,-55.87,-55.93,-55.97,-56,-56.1,-56.2,-56.26,-56.38,-56.47,-56.52,-56.55,-56.65,-56.67,-56.8,-56.83,-56.86,-56.86]],
[[8.5,9,9.5,10,10.5,11,11.3,11.55,11.8,12.1,12.4,12.7],[-55.9,-56,-56,-56,-56,-56.05,-56.2,-56.35,-56.67,-56.7,-56.7,-56.7]],
[[8.5,9,10,11,11.5,12,12.35,12.65],[-55.95,-56,-56,-56.1,-56.2,-56.25,-56.25,-56.26]],
[[8.5,9.5,10.5,11.5,12.1,12.6],[-55.95,-56,-56.03,-56.05,-56.06,-56.07]],
[[8.5,9.5,10.5,11.5,12.4],[-56,-56.05,-56.08,-56.1,-56.1]],
[[8.5,8.6,8.7,9,10,11,12,12.4],[-56.15,-56.18,-56.2,-56.1,-56.1,-56.1,-56.1,-56.1]],
[[8.5,8.6,8.7,8.85,9.1,9.35,9.6,9.9,10.05,10.35,10.6,10.9,11.3,11.5,11.7,11.9,12.4],[-55.83,-55.9,-55.95,-56.33,-56.35,-56.36,-56.36,-56.37,-56.36,-56.37,-56.38,-56.38,-56.38,-56.38,-56.38,-56.38,-56.38]],
[[8.5,8.6,8.75,8.9,9.05,9.2,9.35,9.5,9.7,9.9,10.1,10.3,10.6,10.9,11.3,11.5,11.7,11.9,12.35],[-55.95,-55.98,-56.03,-56.08,-56.1,-56.1,-56.1,-56.1,-56.1,-56.1,-56.1,-56.1,-56.1,-56.12,-56.12,-56.12,-56.12,-56.12,-56.12]]];
const wSunShrinkFit=[
[0,[8.5,9.5,10.5,11.5,12.7],[-55.75,-56.03,-56.4,-56.68,-56.9],[.05,.03,.03,.03,.06]],
[1,[8.5,10.5,11.5,12,12.7],[-55.95,-56,-56.33,-56.55,-56.75],[.05,.03,.05,.06,.07]],
[5,[8.5,10,12.4],[-56.1,-56.2,-56.1],[.06,.1,.08]],
[6,[8.85,10.5,12.4],[-56.33,-56.37,-56.38],[.05,.08,.08]],
[7,[8.5,10,12.35],[-56,-56.08,-56.12],[.05,.03,.04]]];

const wSunExpand=[
[sW,[47,47,47,47,47.2,47.2,47.2,47.2,47.3,47.3,47.9,48.6,49.3,49.3,49.3,49.3,53.2,53.2,53.2,53.9,53.9]],
[[8.5,9,10,10.5,11,11.45,11.7,12,12.35,12.65],[47.7,47.7,47.8,48,48.2,49.2,49.2,49.2,49.7,49.7]],
[[8.5,9,10,11,12,12.65],[47.9,47.9,48,48,48.3,48.6]],
[[8.5,9,10,11,12,12.6],[47.9,47.9,48,48.1,48.3,48.6]],
[[8.5,9,10,11,12,12.4],[48,48,48,48.1,48.2,48.2]],
[[8.5,9,10,11,12,12.4],[48,48,48,48,48.1,48.1]],
[[8.5,9,10,11,12,12.3],[48,48,48,48,48.2,48.2]],
[[8.5,8.6,8.7,8.85,9,9.2,9.35,9.5,9.7,9.9,10.1,10.3,10.65,11,11.4,11.6,11.8,12,12.3],[47.9,47.9,47.9,47.9,47.9,47.9,47.9,47.9,47.9,47.9,48,48,48.1,48.1,48.2,48.2,48.2,48.2,48.3]]];
const wSunExpandFit=[
[0,[8.5,10,10.5,11,11.5,12,12.7],[47.2,48,48.8,50,51.5,53,54.3],[.2,.3,.4,.5,.5,.4,.8]],
[7,[8.5,10,12.3],[47.9,47.95,48.3],[.15,.1,.15]]];

const ftTempShrink=[
[[-29,-24,-20,-18.5,-17,-15.5,-14,-12.5,-11,-9.5,-8,-7,-6,-5,-4,-3,-2,-1,0,4,9],[-250,-250,-250,-250,-250,-250,-250,-250,-250,-250,-250,-250,-248,-210,-180,-165,-158,-157,-165,-287,-290]],
[[-30,-20,-10,-5,0,3,5,13],[-220,-222,-222,-225,-235,-235,-235,-236]],
[[-30,-20,-10,0,5,14],[-220,-220,-220,-225,-230,-222]],
[[-30,-20,-10,0,6,14],[-220,-220,-220,-220,-220,-222]],
[[-38,-30,-20,-10,0,8],[-222,-222,-220,-220,-220,-218]],
[[-34,-20,-10,0,7.5,14],[-220,-220,-220,-220,-218,-222]],
[[-34.5,-29,-20,-10,0,5,12,14],[-220,-220,-222,-222,-222,-222,-222,-222]],
[tF,[_,-218,_,-220,-220,-220,-220,-220,-220,-220,-220,-220,-220,-220,-220,-220,-220,-220,-220,-220,-220,-220,-220,-220,-222,_,_,-222]]];
const ftTempShrinkFit=[
[0,[-29,-20,-8,-4,-1,2,6,9.5],[-263,-253,-248,-190,-162,-185,-250,-330],[25,15,6,8,8,10,15,30]],
[7,[-34.5,-10,12],[-219,-220,-221],[4,2,4]],
[6,[-34.5,-10,14],[-221,-221,-222],[4,2,5]]];

const ftTempExpand=[
[[-29,-20,-15,-12,-10,-8,-7,-6,-5,-4,-3,-2,-1,0,1,4,9],[239,238,234,233,234,236,236,270,270,270,270,270,270,270,270.5,272,272]],
[[-29,-25,-22,-18,-14,-10,-6,-2,2,3,5,6,12.5],[245,245,245,244,243,241,238,238,238,255,255,255,255]],
[[-29,-20,-10,-4,-2,0,2,4,5.5,14],[240,241,239,232,229,228,228,228,229,229]],
[[-27,-15,-5,5,14],[240,240,237,235,236]],
[[-38,-27,-15,-5,5,12],[241,241,240,238,238,238]],
[[-34,-27,-15,-5,5,8],[236,238,238,238,238,238]],
[[-34,-27,-20,-15,-10,-5,0,5,8,14],[236,236,238,238,238,238,238,237,238,237]],
[[-35,-27,-26,-24,-22,-20,-18,-16,-14,-12,-10,-8,-6,-4,-2,0,2,4,5,12],[241,241,236,238,238,238,238,238,238,238,238,238,238,237,237,237,237,237,237,237]]];
const ftTempExpandFit=[
[0,[-29,-15,-7,-4,0,4,9],[240,236,240,262,274,276,262],[5,3,3,4,4,6,9]],
[1,[-29,-15,-4,0,4,8,13],[243,243,236,232,248,256,258],[8,5,3,3,4,4,6]],
[2,[-8,0,6,14],[236,229,229,230],[3,3,2,2]],
[7,[-35,-20,0,12],[241,239,237,237],[2,2,1,2]]];

const wTempShrink=[
[tW,[_,-56.5,-57,-57,-57,-57.2,-57.3,-57.4,-57.5,-57.5,-57.5,-57.5,-57.5,-57,-56.5,-56,-56,-56,-56,-56.2]],
[tW,[_,-51.2,-51.2,-51,-51,-51,-51.2,-52.8,-57,-58,-58,-58.2,-58.2,-58.3,-59,-61,-62.5,_,_,-62.6]],
[[-34,-31,-20,-10,-5,-2.5,3.5],[-61,-60,-56,-55,-58,-66.5,-66.5]],
[[-33,-20,-10,-5,-2,3.5],[-56,-55.5,-55.3,-56,-57.5,-58.7]],
[[-37.5,-20,-10,0,3.5],[-56.3,-56,-55.5,-56,-56]],
[[-37.5,-20,-10,-1,3.5],[-56.3,-56,-56,-56,-56]],
[[-37.5,-25,-15,-5,-1,3.5],[-56.3,-56,-56,-56,-56,-56]],
[[-37.5,-32,-30,-28,-26,-24,-22,-20,-18,-16,-14,-12,-10,-8,-6,-4,-2,-1,3.6],[-56.3,-56.3,-56.3,-56.3,-56.2,-56.2,-56.2,-56.1,-56,-56,-56,-56,-56,-56.1,-56.2,-56.3,-56.4,-56.5,-56.2]]];
const wTempShrinkFit=[
[1,[-18,-8,-4,-1,3.5],[-56,-57,-60.5,-62,-63],[1,.5,.7,1,1.8]],
[2,[-34,-25,-15,-5,0,3.5],[-61,-57.5,-55.5,-58,-64,-68],[2,1,.5,.8,2,3]],
[3,[-33,-15,-5,3.5],[-57,-55.5,-56,-59],[2,.5,.6,1.5]],
[7,[-37.5,-15,-5,3.6],[-56.3,-56,-56.3,-56.3],[.4,.2,.2,.4]]];

const wTempExpand=[
[[-34,-25,-20,-15,-10,-5,-2],[48.5,48.5,48,48,47.5,47.5,48]],
[[-34,-30,-27,-25.5,-24,-22.5,-21,-19.5,-18.5,-17,-16,-15,-14,-13,-12,-11.5,-10,-8.5,-7,-5.5,-4,-2.5,3.5],[53,53,53,53,53,53,53,53,52.8,52,51.5,51.3,51.1,51,46,41,41,41,41,41,41,41,41]],
[[-34,-25,-13.5,-10,-5,3.5],[49,48.5,57.6,47,47,47]],
[[-34,-20,-10,-5,3.5],[49,48.5,48,47,47.5]],
[[-37.5,-25,-10,3.5],[49,48.5,48,48.5]],
[[-37.5,-25,-10,3.5],[49,48.5,48,48]],
[[-37.5,-31,-28,-25,-15,-5,3.5],[49,48.5,48,48,47.5,48,48]],
[[-37.5,-31,-29.5,-28,-26.5,-25,-23.5,-22,-20.5,-19,-17.5,-16,-14.5,-13,-11.5,-10,-8.5,-7,-5.5,-4,-2.5,-1.5,3.5],[49,49,49,49,48.8,48.3,48.3,48.2,48,48,47.9,47.8,47.8,47.8,47.8,47.8,48,48.1,48.2,48.4,48.5,48.5,48.5]]];
const wTempExpandFit=[
[1,[-34,-25,-17,-12,-8,-2,3.5],[52,53,52.5,47,41.5,40,41],[5,2,2,2,2.5,2.5,4.5]],
[7,[-37.5,-20,-5,3.5],[49,48.3,47.9,47.8],[.6,.3,.3,.6]]];

const ftRhvShrink=[[hvF,[-225,-225,-224,-224,-224.3,-224.5,-223,-223,-222.8,-222.5,-222,-222,-221.8,-214,-213.5,-213,-212.7,-212.6,-212.6,-212.6,-212.5,-212.5,-212.5,-212.5]]];
const ftRhvShrinkFit=[[0,[-68,-50,-38,-25,-10,-2,3,8,20,30,40],[-225,-224.9,-224.8,-224.5,-223,-221,-215,-212,-210.5,-210.7,-212.5],[3,4,5.3,1.2,.5,.8,1,1,1.8,2,3.5]]];
const ftRhvExpand=[[hvE,[237.2,236.7,238,237.7,237.5,238,238,238,238.3,238.5,239.8,240.3,241.5,241.5,241.6,241.6,241.5,241.3,238.9,236,235.6,236]]];
const ftRhvExpandFit=[[0,[-67,-50,-38,-25,-10,-2,3,7,14,22,32,40],[237,236.8,236.9,237.3,238,239,241,241.3,239,236.8,235.6,235.5],[1.8,2.5,2.8,1,.4,.5,.5,.5,.6,.8,1,1.6]]];
const wRhvShrink=[[hvW,[-63,-63,-63,-63,-63,-62.5,-62,-61.7,-61.2,-61,-55.5,-55.5,-55,-55,-54.5,-53.5,-53,-51.7,-53,-53.5,-53.7,-53.7,-53.7,-53.7]]];
const wRhvShrinkFit=[[0,[-36.5,-25,-17,-7,-2,2,8,15,30,51.5],[-63.3,-63.8,-63.7,-62,-58.5,-54.5,-53,-52.6,-53,-53.7],[2,2,1.5,.6,1,.6,.6,1,1.5,2.3]]];
const wRhvExpand=[[hvX,[37,37,37,37,37,37,37,38,38,39,43,46,57,59,60.5,61,74,75,76,76,76,76]]];
const wRhvExpandFit=[[0,[-36.5,-25,-17,-7,-2,3,8,15,30,42,51.5],[37,36.5,36.5,37.5,41,52,70,80,86,83,76],[4,2.5,2,1,1.2,1.2,1.5,2,3.5,3.5,4]]];

const ftTvShrink=[[tvA,[-295,-295,-293,-290,-278,-275,-275,-275,-277,-280,-282,-280,-255,-253,-250,-205,-205,-208,-203,-202,-203,-203,-203,-165,-130,-130,-130]]];
const ftTvShrinkFit=[[0,[-19,-12,-6,-2,1,5,9,12,15],[-295,-295,-277,-262,-222,-195,-155,-130,-115],[25,12,7,8,9,9,10,12,25]]];
const ftTvExpand=[[tvB,[178,178,176,177,177,177,177,177,178,178,178,180,203,263,263,266,270,276,328,332,333,333,333,333,333,333,335,333]]];
const ftTvExpandFit=[[0,[-19,-12,-5,-2,0,2,4,8,11,15],[180,170,178,200,255,300,328,340,342,330],[15,10,5,7,8,7,6,8,10,18]]];
const wTvShrink=[[tvC,[-114,-114,-110,-108,-108,-88,-77,-76,-75,-75,-74,-50,-50,-50,-50,-50,-50,-51,-34,-34,-34,-34,-34,-34,-34,-34]]];
const wTvShrinkFit=[[0,[-19,-13,-9,-5,-2,1,5,9,14,19.6],[-116,-116,-105,-85,-65,-50,-42,-35,-32,-34],[9,7,3.5,4,4,3.5,3,3,4,9]]];
const wTvExpand=[[tvD,[47.05,47.05,47.1,47.05,47.2,47.3,47.4,47.5,47.6,47.2,47.2,47.2,47.4,47.4,47.4,48.4,48.35,48.35,50.05,50.05,50.05,50.05,50.1,50.2,50.85,50.85]]];
const wTvExpandFit=[[0,[-19,-11,-4,1,4,7,10,14,19.6],[47.05,47.1,47.35,47.6,48.5,49.7,50.4,50.8,50.9],[.4,.2,.15,.15,.2,.2,.2,.3,.6]]];

/* panel layout */
const rowTop=[70.7,287,504,721,938,1154,1371,1587];
const rowBottom=[184,401,617,834,1051,1267,1484,1700];
const colLeft=[119.5,499,880,1258];
const colRight=[365,750,1136,1521];
const rowLabels=[
'Daily precipitation (mm)',
'Relative humidity (%)',
'VPD (kPa)',
'Radiation (µmol m<tspan dy="-10" font-size="18">-2</tspan><tspan dy="10">s</tspan><tspan dy="-10" font-size="18">-1</tspan><tspan dy="10">)</tspan>',
'Sunshine hours',
'Air temperature (°C)',
'RH variation (% d<tspan dy="-10" font-size="18">−1</tspan><tspan dy="10">&#160;)</tspan>',
'T variation (°C d<tspan dy="-10" font-size="18">−1</tspan><tspan dy="10">&#160;)</tspan>'];

const panels=[
{id:'ft-precip-shrinkage',r:0,c:0,xd:[-3.2,69.2],yd:[-234.2,-214.9],xt:xtPrecip,yt:[-215,-220,-225,-230],s:ftPrecipShrink,f:ftPrecipShrinkFit},
{id:'ft-precip-expansion',r:0,c:1,xd:[-3.2,69.2],yd:[208.2,300.3],xt:xtPrecip,yt:[300,275,250,225],s:ftPrecipExpand,f:ftPrecipExpandFit},
{id:'winter-precip-shrinkage',r:0,c:2,xd:[-3,69.1],yd:[-66.4,-53.1],xt:xtPrecip,yt:[-54,-57,-60,-63,-66],s:wPrecipShrink,f:wPrecipShrinkFit},
{id:'winter-precip-expansion',r:0,c:3,xd:[-3.2,69],yd:[47.1,50.98],xt:xtPrecip,yt:[50,49,48],s:wPrecipExpand,f:wPrecipExpandFit},
{id:'ft-rh-shrinkage',r:1,c:0,xd:[-.6,104.5],yd:[-228.5,-198.7],xt:xtRhF,yt:[-200,-210,-220],s:ftRhShrink,f:ftRhShrinkFit},
{id:'ft-rh-expansion',r:1,c:1,xd:[-.2,104.4],yd:[220.4,280.9],xt:xtRhF,yt:[280,260,240],s:ftRhExpand,f:ftRhExpandFit},
{id:'winter-rh-shrinkage',r:1,c:2,xd:[7,104.3],yd:[-60.3,-54.4],xt:xtRhW,yt:[-56,-58,-60],s:wRhShrink,f:wRhShrinkFit},
{id:'winter-rh-expansion',r:1,c:3,xd:[6.7,104.2],yd:[42.3,62.75],xt:xtRhW,yt:[60,55,50,45],s:wRhExpand,f:wRhExpandFit},
{id:'ft-vpd-shrinkage',r:2,c:0,xd:[-.13,2.53],yd:[-235.6,-214.3],xt:xtVpdF,yt:[-215,-220,-225,-230,-235],fx:1,s:ftVpdShrink,f:ftVpdShrinkFit},
{id:'ft-vpd-expansion',r:2,c:1,xd:[-.12,2.53],yd:[196.3,335],xt:xtVpdF,yt:[300,250,200],fx:1,s:ftVpdExpand,f:ftVpdExpandFit},
{id:'winter-vpd-shrinkage',r:2,c:2,xd:[-.07,1.368],yd:[-66.6,-54.2],xt:xtVpdW,yt:[-57,-60,-63,-66],fx:1,s:wVpdShrink,f:wVpdShrinkFit},
{id:'winter-vpd-expansion',r:2,c:3,xd:[-.075,1.366],yd:[44.2,62.1],xt:xtVpdW,yt:[60,55,50,45],fx:1,s:wVpdExpand,f:wVpdExpandFit},
{id:'ft-radiation-shrinkage',r:3,c:0,xd:[-15,355.6],yd:[-256.5,-210.9],xt:xtRadF,yt:[-220,-230,-240,-250],s:ftRadShrink,f:ftRadShrinkFit},
{id:'ft-radiation-expansion',r:3,c:1,xd:[-14.7,355],yd:[231.8,242.5],xt:xtRadF,yt:[241,238,235,232],s:ftRadExpand,f:ftRadExpandFit},
{id:'winter-radiation-shrinkage',r:3,c:2,xd:[-9.5,240],yd:[-89.4,-51],xt:xtRadW,yt:[-60,-70,-80],s:wRadShrink,f:wRadShrinkFit},
{id:'winter-radiation-expansion',r:3,c:3,xd:[-9.7,239],yd:[46.15,54.3],xt:xtRadW,yt:[54,52,50,48],s:wRadExpand,f:wRadExpandFit},
{id:'ft-sunshine-shrinkage',r:4,c:0,xd:[8.13,15.89],yd:[-221.67,-217.9],xt:xtSunF,yt:[-218,-219,-220,-221],s:ftSunShrink,f:ftSunShrinkFit},
{id:'ft-sunshine-expansion',r:4,c:1,xd:[8.11,15.92],yd:[230.4,260.6],xt:xtSunF,yt:[260,250,240],s:ftSunExpand,f:ftSunExpandFit},
{id:'winter-sunshine-shrinkage',r:4,c:2,xd:[8.25,12.92],yd:[-57.03,-55.59],xt:xtSunW,yt:[-56,-57],s:wSunShrink,f:wSunShrinkFit},
{id:'winter-sunshine-expansion',r:4,c:3,xd:[8.26,12.9],yd:[46.16,55.87],xt:xtSunW,yt:[54,52,50,48],s:wSunExpand,f:wSunExpandFit},
{id:'ft-temperature-shrinkage',r:5,c:0,xd:[-40.6,16.7],yd:[-363.4,-146.8],xt:xtTempF,yt:[-150,-200,-250,-300,-350],s:ftTempShrink,f:ftTempShrinkFit},
{id:'ft-temperature-expansion',r:5,c:1,xd:[-40.3,16.6],yd:[223.6,285.7],xt:xtTempF,yt:[280,260,240],s:ftTempExpand,f:ftTempExpandFit},
{id:'winter-temperature-shrinkage',r:5,c:2,xd:[-39.85,5.45],yd:[-71.6,-49.1],xt:xtTempW,yt:[-50,-55,-60,-65,-70],s:wTempShrink,f:wTempShrinkFit},
{id:'winter-temperature-expansion',r:5,c:3,xd:[-39.9,5.4],yd:[35.5,58.6],xt:xtTempW,yt:[55,50,45,40],s:wTempExpand,f:wTempExpandFit},
{id:'ft-rh-variation-shrinkage',r:6,c:0,xd:[-73.2,45.9],yd:[-231.1,-208.1],xt:xtRhvF,yt:[-210,-215,-220,-225,-230],s:ftRhvShrink,f:ftRhvShrinkFit},
{id:'ft-rh-variation-expansion',r:6,c:1,xd:[-72.9,46],yd:[233.5,242.6],xt:xtRhvF,yt:[242,240,238,236,234],s:ftRhvExpand,f:ftRhvExpandFit},
{id:'winter-rh-variation-shrinkage',r:6,c:2,xd:[-40.9,56],yd:[-66.25,-50.5],xt:xtRhvW,yt:[-55,-60,-65],s:wRhvShrink,f:wRhvShrinkFit},
{id:'winter-rh-variation-expansion',r:6,c:3,xd:[-40.9,55.8],yd:[29,93.2],xt:xtRhvW,yt:[80,60,40],s:wRhvExpand,f:wRhvExpandFit},
{id:'ft-t-variation-shrinkage',r:7,c:0,xd:[-20.5,16.4],yd:[-329,-84],xt:xtTvF,yt:[-100,-150,-200,-250,-300],s:ftTvShrink,f:ftTvShrinkFit},
{id:'ft-t-variation-expansion',r:7,c:1,xd:[-20.5,16.5],yd:[146.8,364.8],xt:xtTvF,yt:[350,300,250,200,150],s:ftTvExpand,f:ftTvExpandFit},
{id:'winter-t-variation-shrinkage',r:7,c:2,left:891,xd:[-20.9,21.2],yd:[-131.4,-18],xt:xtTvW,yt:[-25,-50,-75,-100,-125],s:wTvShrink,f:wTvShrinkFit},
{id:'winter-t-variation-expansion',r:7,c:3,xd:[-20.8,21.2],yd:[46.2,51.69],xt:xtTvW,yt:[51,50,49,48,47],s:wTvExpand,f:wTvExpandFit}
];

const svgRoot=document.getElementById('chart');
const NS=svgRoot.namespaceURI;
function make(tag,parent,attrs){
  const e=document.createElementNS(NS,tag);
  for(const k in attrs){e.setAttribute(k,attrs[k]);}
  parent.appendChild(e);
  return e;
}
function linear(d0,d1,r0,r1){
  return function(v){return r0+(v-d0)*(r1-r0)/(d1-d0);};
}
function spline(a,b,c,d,t){
  return .5*(2*b+(c-a)*t+(2*a-5*b+4*c-d)*t*t+(3*b-a-3*c+d)*t*t*t);
}
function resample(xs,ys,cis){
  const out=[];
  const n=xs.length;
  const at=function(arr,i){return arr[Math.max(0,Math.min(n-1,i))];};
  for(let i=0;i<n-1;i++){
    for(let k=0;k<10;k++){
      const t=k/10;
      out.push([
        at(xs,i)+(at(xs,i+1)-at(xs,i))*t,
        spline(at(ys,i-1),at(ys,i),at(ys,i+1),at(ys,i+2),t),
        Math.max(0,spline(at(cis,i-1),at(cis,i),at(cis,i+1),at(cis,i+2),t))
      ]);
    }
  }
  out.push([xs[n-1],ys[n-1],cis[n-1]]);
  return out;
}

panels.forEach(function(p){
  const L=p.left||colLeft[p.c],R=colRight[p.c],T=rowTop[p.r],B=rowBottom[p.r];
  const sx=linear(p.xd[0],p.xd[1],L,R);
  const sy=linear(p.yd[0],p.yd[1],B,T);
  const g=make('g',svgRoot,{});
  
  

  p.s.forEach(function(row,lag){
    const sg=make('g',g,{});
    
    
    const xs=row[0],ys=row[1];
    for(let i=0;i<ys.length;i++){
      if(ys[i]===null||ys[i]===undefined||xs[i]===undefined) continue;
      const dot=make('circle',sg,{cx:sx(xs[i]).toFixed(1),cy:sy(ys[i]).toFixed(1),r:7.4,fill:lagColors[lag]});
      
      
    }
    p.f.filter(function(f){return f[0]===lag;}).forEach(function(f){
      const pts=resample(f[1],f[2],f[3]);
      let up='',lo='',mid='';
      pts.forEach(function(q,i){
        up+=(i?'L':'M')+sx(q[0]).toFixed(1)+' '+sy(q[1]+q[2]).toFixed(1);
        mid+=(i?'L':'M')+sx(q[0]).toFixed(1)+' '+sy(q[1]).toFixed(1);
      });
      for(let i=pts.length-1;i>=0;i--){
        lo+='L'+sx(pts[i][0]).toFixed(1)+' '+sy(pts[i][1]-pts[i][2]).toFixed(1);
      }
      const band=make('path',sg,{d:up+lo+'Z',fill:lagColors[lag],'fill-opacity':.3});
      
      
      const line=make('path',sg,{d:mid,fill:'none',stroke:lagColors[lag],'stroke-width':1,'stroke-opacity':.75});
      
      
    });
  });

  const yAxis=make('line',g,{x1:L,x2:L,y1:T,y2:B+1,stroke:'#1a1a1a','stroke-width':2});
  
  
  const xAxis=make('line',g,{x1:L-1,x2:R,y1:B,y2:B,stroke:'#1a1a1a','stroke-width':2});
  
  

  p.yt.forEach(function(v){
    const y=sy(v);
    const tick=make('line',g,{x1:L-5,x2:L,y1:y,y2:y,stroke:'#1a1a1a','stroke-width':2});
    
    
    const lab=make('text',g,{x:L-10.5,y:y+7.2,'font-size':20.5,'text-anchor':'end',fill:'#4d4d4d'});
    
    
    lab.textContent=String(v);
  });
  p.xt.forEach(function(v){
    const x=sx(v);
    const tick=make('line',g,{x1:x,x2:x,y1:B,y2:B+5,stroke:'#1a1a1a','stroke-width':2});
    
    
    const lab=make('text',g,{x:x,y:B+28,'font-size':20.5,'text-anchor':'middle',fill:'#4d4d4d'});
    
    
    lab.textContent=p.fx?v.toFixed(1):String(v);
  });
  const title=make('text',g,{x:(colLeft[p.c]+R)/2+1,y:B+64.5,'font-size':26.5,'text-anchor':'middle',fill:'#000'});
  
  
  title.innerHTML=rowLabels[p.r];
});

/* legend */
const legendColX=[480,647,790,932];
const legendTextX=[550,717.6,860,1003];
const legendRowY=[1805,1862];
const legendG=make('g',svgRoot,{});


lagNames.forEach(function(name,i){
  const c=Math.floor(i/2),r=i%2;
  const x=legendColX[c],y=legendRowY[r];
  const cy=y+29;
  const entry=make('g',legendG,{});
  
  
  const key=make('rect',entry,{x:x,y:y,width:57,height:57,fill:lagColors[i],'fill-opacity':.3});
  
  
  const ln=make('line',entry,{x1:x+6,x2:x+51,y1:cy,y2:cy,stroke:lagColors[i],'stroke-width':1,'stroke-opacity':.75});
  
  
  const d=make('circle',entry,{cx:x+28.5,cy:cy,r:7.3,fill:lagColors[i]});
  
  
  const t=make('text',entry,{x:legendTextX[c],y:cy+10,'font-size':26,fill:'#000'});
  
  
  t.textContent=name;
});
</script>
</body>
</html>
